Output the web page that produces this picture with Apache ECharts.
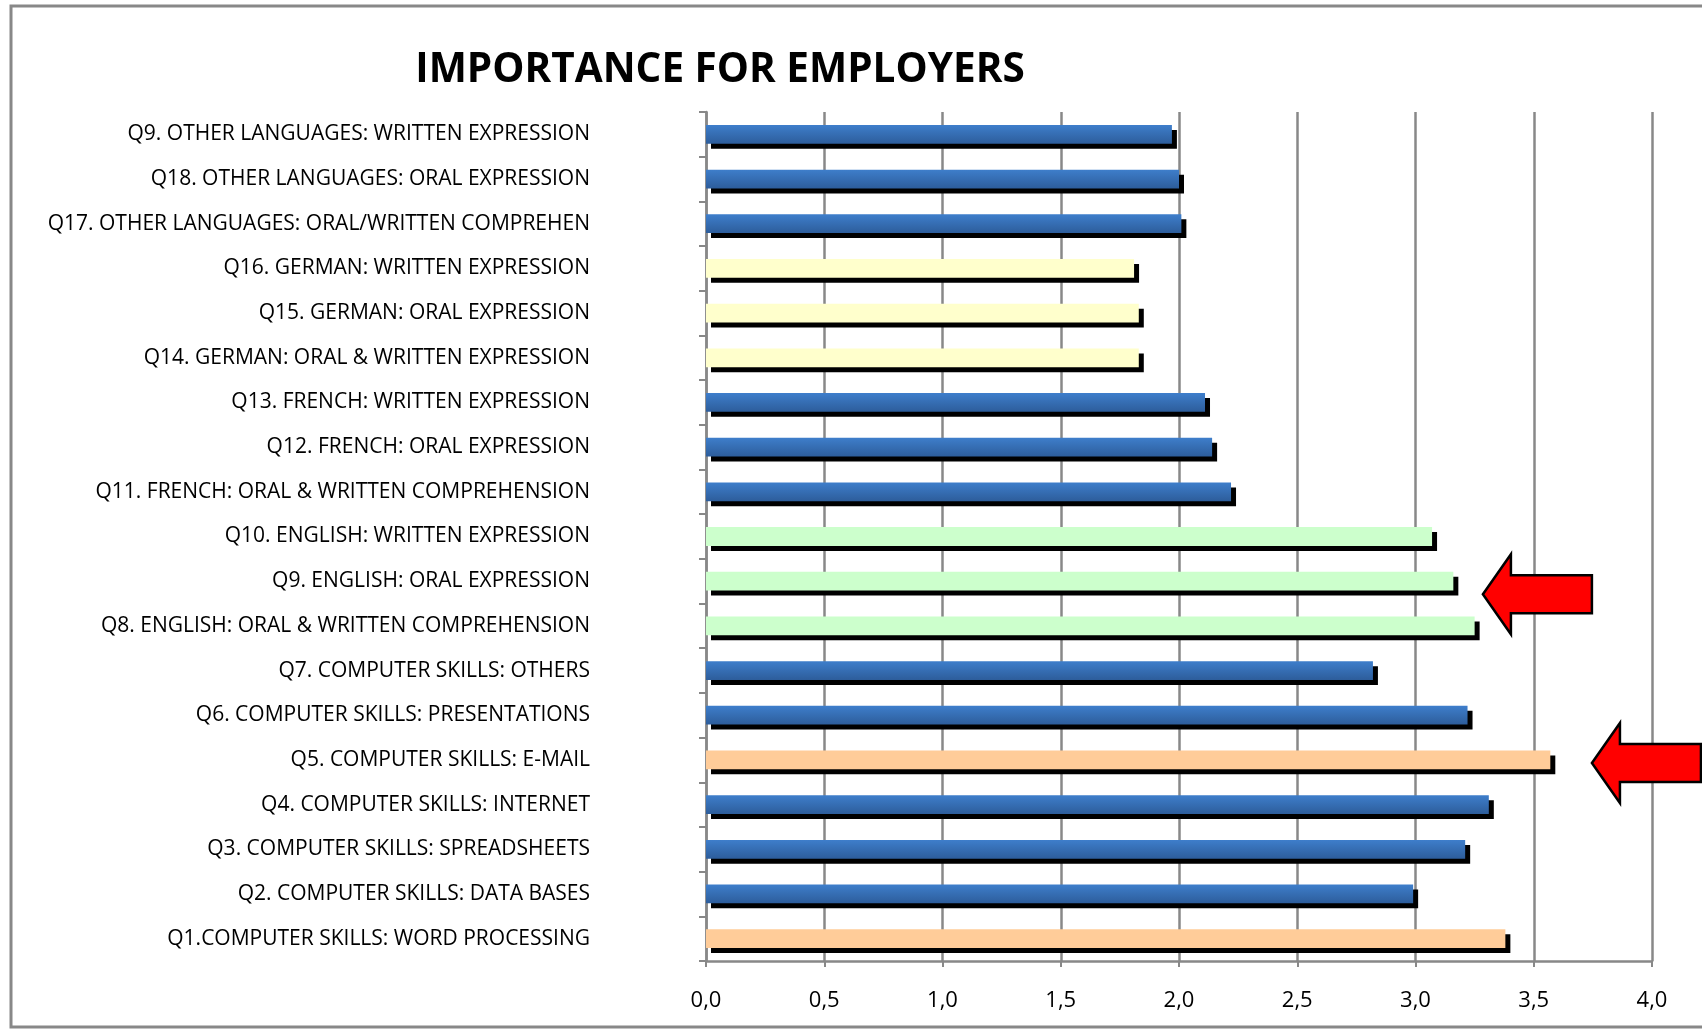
<!DOCTYPE html>
<html>
<head>
<meta charset="utf-8">
<script src="https://cdn.jsdelivr.net/npm/echarts@6/dist/echarts.min.js"></script>
<style>
html,body{margin:0;padding:0;background:#fff;}
#chart{width:1702px;height:1035px;}
</style>
</head>
<body>
<div id="chart"></div>
<script>
// Categories listed top to bottom as they appear
var categories = [
  'Q9. OTHER LANGUAGES: WRITTEN EXPRESSION',
  'Q18. OTHER LANGUAGES: ORAL EXPRESSION',
  'Q17. OTHER LANGUAGES: ORAL/WRITTEN COMPREHEN',
  'Q16. GERMAN: WRITTEN EXPRESSION',
  'Q15. GERMAN: ORAL EXPRESSION',
  'Q14. GERMAN: ORAL & WRITTEN EXPRESSION',
  'Q13. FRENCH: WRITTEN EXPRESSION',
  'Q12. FRENCH: ORAL EXPRESSION',
  'Q11. FRENCH: ORAL & WRITTEN COMPREHENSION',
  'Q10. ENGLISH: WRITTEN EXPRESSION',
  'Q9. ENGLISH: ORAL EXPRESSION',
  'Q8. ENGLISH: ORAL & WRITTEN COMPREHENSION',
  'Q7. COMPUTER SKILLS: OTHERS',
  'Q6. COMPUTER SKILLS: PRESENTATIONS',
  'Q5. COMPUTER SKILLS: E-MAIL',
  'Q4. COMPUTER SKILLS: INTERNET',
  'Q3. COMPUTER SKILLS: SPREADSHEETS',
  'Q2. COMPUTER SKILLS: DATA BASES',
  'Q1.COMPUTER SKILLS: WORD PROCESSING'
];
var values = [1.97, 2.00, 2.01, 1.81, 1.83, 1.83, 2.11, 2.14, 2.22, 3.07, 3.16, 3.25, 2.82, 3.22, 3.57, 3.31, 3.21, 2.99, 3.38];
// highlight group per category
var groups = ['base','base','base','german','german','german','base','base','base',
              'english','english','english','base','base','key','base','base','base','key'];
var xTicks = [0, 0.5, 1, 1.5, 2, 2.5, 3, 3.5, 4];
var arrowTargets = ['Q9. ENGLISH: ORAL EXPRESSION', 'Q5. COMPUTER SKILLS: E-MAIL'];

var groupColors = {
  base: new echarts.graphic.LinearGradient(0, 0, 0, 1, [
    {offset: 0, color: '#3e7ecb'}, {offset: 1, color: '#2d5d9b'}
  ]),
  german: '#ffffcc',
  english: '#ccffcc',
  key: '#ffcc99'
};

var FONT = "'Open Sans', sans-serif";
var chart = echarts.init(document.getElementById('chart'), null, {renderer: 'canvas'});

var option = {
  backgroundColor: '#fff',
  animation: false,
  title: {
    text: 'IMPORTANCE FOR EMPLOYERS',
    left: 715,
    textAlign: 'center',
    top: 45,
    textStyle: {fontFamily: FONT, fontWeight: 'bold', fontSize: 40.5, color: '#000'}
  },
  grid: {left: 706, right: 50, top: 112, bottom: 74, containLabel: false},
  xAxis: {
    type: 'value', min: xTicks[0], max: xTicks[xTicks.length - 1], interval: xTicks[1] - xTicks[0],
    axisLine: {show: true, lineStyle: {color: '#888', width: 2.5}},
    axisTick: {show: true, length: 6, lineStyle: {color: '#888', width: 2}},
    splitLine: {show: true, lineStyle: {color: '#888', width: 2.5}},
    axisLabel: {
      margin: 29, fontFamily: FONT, fontSize: 22, color: '#000',
      formatter: function (v) { return v.toFixed(1).replace('.', ','); }
    }
  },
  yAxis: {
    type: 'category', inverse: true, data: categories,
    axisLine: {show: true, lineStyle: {color: '#888', width: 2.5}},
    axisTick: {show: true, length: 7, lineStyle: {color: '#888', width: 2}},
    axisLabel: {margin: 116, fontFamily: FONT, fontSize: 21, color: '#000', padding: [6, 0, 0, 0]}
  },
  series: [{
    type: 'bar',
    barWidth: '42%',
    data: values.map(function (v, i) {
      return {value: v, itemStyle: {color: groupColors[groups[i]]}};
    }),
    itemStyle: {
      shadowColor: '#000', shadowBlur: 0, shadowOffsetX: 5, shadowOffsetY: 5
    }
  }]
};
chart.setOption(option);

function arrowPoly(tipX, tipY) {
  var len = 109, head = 28, hh = 40, sh = 19;
  return [
    [tipX, tipY], [tipX + head, tipY - hh], [tipX + head, tipY - sh],
    [tipX + len, tipY - sh], [tipX + len, tipY + sh], [tipX + head, tipY + sh],
    [tipX + head, tipY + hh]
  ];
}
var p1 = chart.convertToPixel({gridIndex: 0}, [3.285, arrowTargets[0]]);
var p2 = chart.convertToPixel({gridIndex: 0}, [3.746, arrowTargets[1]]);
chart.setOption({
  graphic: [
    {type: 'rect', shape: {x: 11, y: 6, width: 1720, height: 1021},
     style: {fill: 'none', stroke: '#888', lineWidth: 3}, silent: true, z: 100},
    {type: 'polygon', shape: {points: arrowPoly(p1[0], p1[1] + 13)},
     style: {fill: '#ff0000', stroke: '#000', lineWidth: 2.5}, z: 100},
    {type: 'polygon', shape: {points: arrowPoly(p2[0], p2[1] + 3)},
     style: {fill: '#ff0000', stroke: '#000', lineWidth: 2.5}, z: 100}
  ]
});
</script>
</body>
</html>
